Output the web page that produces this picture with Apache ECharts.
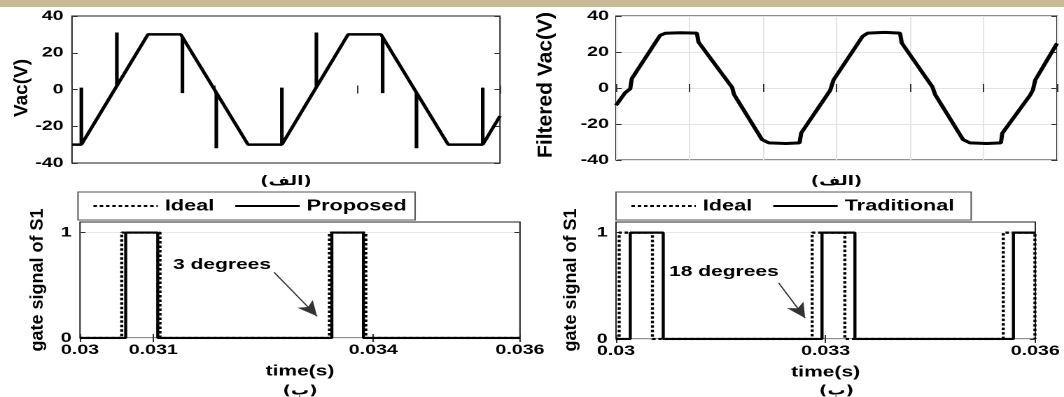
<!DOCTYPE html>
<html><head><meta charset="utf-8">
<script src="https://cdn.jsdelivr.net/npm/echarts@6/dist/echarts.min.js"></script>
<style>
html,body{margin:0;padding:0;background:#fff;overflow:hidden}
#wrap{width:1064px;height:397px;overflow:hidden;position:relative;background:#fff}
#c{width:760px;height:397px;transform:scaleX(1.4);transform-origin:0 0}
</style></head>
<body><div id="wrap"><div id="c"></div></div>
<script>
// ---------------- data (time in s, value) ----------------
const vacRaw = [
  [0.03,-30],[0.030131,-30],[0.030131,1],[0.030131,-30],
  [0.030629,2],[0.030629,31],[0.030629,2],
  [0.031065,30],[0.031524,30],
  [0.031548,28.5],[0.031548,-2],[0.031548,28.5],
  [0.032023,-1.7],[0.032023,-32],[0.032023,-1.7],
  [0.032468,-30],[0.032942,-30],[0.032942,1],[0.032942,-30],
  [0.033426,1.3],[0.033426,31],[0.033426,1.3],
  [0.033871,30],[0.034331,30],
  [0.034355,28.5],[0.034355,-2],[0.034355,28.5],
  [0.034829,-1.7],[0.034829,-32],[0.034829,-1.7],
  [0.035274,-30],[0.035758,-30],[0.035758,1],[0.035758,-30],
  [0.036,-14.4]
];
const vacFiltered = [
  [0.03,-9.6],[0.030125,-2.6],[0.030193,-0.5],[0.030215,5.2],[0.030601,29.3],[0.030669,30.4],
  [0.030873,30.7],[0.0311,30.5],[0.031122,25.5],[0.03158,0.3],[0.031607,-3.7],[0.031987,-28.7],
  [0.03208,-30.5],[0.032312,-30.8],[0.032497,-30.5],[0.03252,-25],[0.032914,-1.3],[0.032937,-0.5],
  [0.032961,4.6],[0.033355,28.7],[0.033424,30.5],[0.033656,30.9],[0.033864,30.5],[0.033888,25],
  [0.034305,0.6],[0.034342,-3.7],[0.034722,-28.7],[0.034815,-30.5],[0.035046,-30.8],[0.035237,-30.5],
  [0.035255,-25.2],[0.035635,-3.9],[0.035672,-1.1],[0.035704,4.4],[0.036,24.8]
];
const gateIdealA = [
  [0.03,0],[0.030569,0],[0.030569,1],[0.031091,1],[0.031091,0],
  [0.033401,0],[0.033401,1],[0.033898,1],[0.033898,0],[0.036,0]
];
const gateProposed = [
  [0.03,0],[0.030623,0],[0.030623,1],[0.03106,1],[0.03106,0],
  [0.033434,0],[0.033434,1],[0.033865,1],[0.033865,0],[0.036,0]
];
const gateIdealB = [
  [0.03,0],[0.030045,0],[0.030045,1],[0.030521,1],[0.030521,0],
  [0.032807,0],[0.032807,1],[0.033275,1],[0.033275,0],
  [0.035542,0],[0.035542,1],[0.035995,1],[0.035995,0],[0.036,0]
];
const gateTraditional = [
  [0.03,0],[0.030204,0],[0.030204,1],[0.030676,1],[0.030676,0],
  [0.032948,0],[0.032948,1],[0.033419,1],[0.033419,0],
  [0.035687,0],[0.035687,1],[0.036,1]
];
const arrowA = [[0.032647,0.623],[0.033233,0.206]];
const arrowB = [[0.032327,0.528],[0.032707,0.196]];
const xTicksA = [0.03,0.031,0.034,0.036];
const xTicksB = [0.03,0.033,0.036];
const yTicksGate = [0,1];
const legendA = ['Ideal','Proposed'];
const legendB = ['Ideal','Traditional'];
const noteA = '3 degrees';
const noteB = '18 degrees';
const yTitles = ['Vac(V)','Filtered Vac(V)','gate signal of S1','gate signal of S1'];

// ---------------- layout ----------------
const S = 1.4;
const px = x => x / S;
const FONT = 'Liberation Sans, Arial, Helvetica, sans-serif';
const AR = 'DejaVu Sans, sans-serif';
const fmt = v => String(+(+v).toFixed(4));

const grids = [
  {left: px(72),  top: 16,  width: px(500-72),   height: 147},
  {left: px(616), top: 16,  width: px(1057-616), height: 144},
  {left: px(80),  top: 222, width: px(520-80),   height: 116},
  {left: px(616), top: 222, width: px(1057-616), height: 117}
].map(g => Object.assign({show: true, borderColor: '#222', borderWidth: 1, backgroundColor: 'rgba(0,0,0,0)'}, g));

const tick = extra => Object.assign({show: true, inside: true, length: 4, lineStyle: {color: '#333', width: 1}}, extra || {});
const lbl = extra => Object.assign({fontFamily: FONT, fontWeight: 'bold', fontSize: 14, color: '#000'}, extra || {});
const gridSplit = {show: true, lineStyle: {color: '#e4e4e4', width: 1}};

function xAx(gi, pos, o) {
  return Object.assign({type: 'value', gridIndex: gi, position: pos, min: 0.03, max: 0.036,
    axisLine: {show: false}, axisLabel: {show: false}, splitLine: {show: false}}, o);
}
function yAx(gi, pos, o) {
  return Object.assign({type: 'value', gridIndex: gi, position: pos,
    axisLine: {show: false}, axisLabel: {show: false}, splitLine: {show: false}}, o);
}
const alefName = {name: '(الف)', nameLocation: 'middle',
  nameTextStyle: {fontFamily: AR, fontWeight: 'bold', fontSize: 13, color: '#000'}};
const timeName = {name: 'time(s)', nameLocation: 'middle', nameGap: 26,
  nameTextStyle: {fontFamily: FONT, fontWeight: 'bold', fontSize: 15, color: '#000'}};

const xAxis = [
  xAx(0, 'bottom', Object.assign({interval: 0.002, axisTick: tick(), nameGap: 12}, alefName)),
  xAx(0, 'top', {interval: 0.002, axisTick: tick()}),
  xAx(1, 'bottom', Object.assign({interval: 0.001, axisTick: tick(), splitLine: gridSplit, nameGap: 15}, alefName)),
  xAx(1, 'top', {interval: 0.001, axisTick: tick()}),
  xAx(2, 'bottom', Object.assign({interval: 0.001,
    axisTick: tick({customValues: xTicksA}),
    axisLabel: lbl({show: true, customValues: xTicksA, margin: 5, formatter: fmt})}, timeName)),
  xAx(2, 'top', {interval: 0.001, axisTick: tick({customValues: xTicksA})}),
  xAx(3, 'bottom', Object.assign({interval: 0.001,
    axisTick: tick({customValues: xTicksB}),
    axisLabel: lbl({show: true, customValues: xTicksB, margin: 5, formatter: fmt})}, timeName)),
  xAx(3, 'top', {interval: 0.001, axisTick: tick({customValues: xTicksB})})
];
const yAxis = [
  yAx(0, 'left', {min: -40, max: 40, interval: 20, axisTick: tick(), axisLabel: lbl({show: true, margin: 6})}),
  yAx(0, 'right', {min: -40, max: 40, interval: 20, axisTick: tick()}),
  yAx(1, 'left', {min: -40, max: 40, interval: 20, axisTick: tick(), splitLine: gridSplit, axisLabel: lbl({show: true, margin: 5})}),
  yAx(1, 'right', {min: -40, max: 40, interval: 20, axisTick: tick()}),
  yAx(2, 'left', {min: 0, max: 1.1, interval: 1, axisTick: tick({customValues: yTicksGate}),
    splitLine: {show: true, lineStyle: {color: '#e8e8e8'}},
    axisLabel: lbl({show: true, margin: 6, customValues: yTicksGate})}),
  yAx(2, 'right', {min: 0, max: 1.1, interval: 1, axisTick: tick({customValues: yTicksGate})}),
  yAx(3, 'left', {min: 0, max: 1.1, interval: 1, axisTick: tick({customValues: yTicksGate}),
    splitLine: {show: true, lineStyle: {color: '#e8e8e8'}},
    axisLabel: lbl({show: true, margin: 6, customValues: yTicksGate})}),
  yAx(3, 'right', {min: 0, max: 1.1, interval: 1, axisTick: tick({customValues: yTicksGate})})
];

const dotted = [2.5, 2];
function lineSeries(name, data, xi, yi, width, type, extra) {
  return Object.assign({name: name, type: 'line', data: data, xAxisIndex: xi, yAxisIndex: yi,
    symbol: 'none', showSymbol: false, animation: false, color: '#000',
    lineStyle: {color: '#000', width: width, type: type || 'solid'}}, extra || {});
}
function arrow(pts) {
  return {silent: true, symbol: ['none', 'arrow'], symbolSize: [10, 15], animation: false,
    label: {show: false}, lineStyle: {color: '#333', width: 1, type: 'solid'},
    data: [[{coord: pts[0]}, {coord: pts[1]}]]};
}
const series = [
  lineSeries('Vac', vacRaw, 0, 0, 2.6),
  lineSeries('Filtered', vacFiltered, 2, 2, 3),
  lineSeries(legendA[0], gateIdealA, 4, 4, 2.2, dotted, {markLine: arrow(arrowA)}),
  lineSeries(legendA[1], gateProposed, 4, 4, 2.2),
  lineSeries(legendB[0], gateIdealB, 6, 6, 2.2, dotted, {markLine: arrow(arrowB)}),
  lineSeries(legendB[1], gateTraditional, 6, 6, 2.2)
];

const legendBase = {top: 192, orient: 'horizontal', itemWidth: 46, itemHeight: 14, itemGap: 14,
  padding: [6, 6, 6, 10], borderColor: '#555', borderWidth: 1, borderRadius: 0, backgroundColor: '#fff',
  selectedMode: false,
  itemStyle: {color: 'rgba(0,0,0,0)', borderColor: 'rgba(0,0,0,0)', borderWidth: 0, opacity: 0},
  textStyle: {fontFamily: FONT, fontWeight: 'bold', fontSize: 15.5, color: '#000'}};
const legend = [
  Object.assign({}, legendBase, {left: px(78), data: legendA}),
  Object.assign({}, legendBase, {left: px(616), data: legendB, padding: [6, 12, 6, 10]})
];

function txt(x, y, text, o) {
  const st = Object.assign({text: text, fill: '#000', align: 'center', verticalAlign: 'middle',
    textAlign: 'center', textVerticalAlign: 'middle',
    fontFamily: FONT, fontSize: 15, fontWeight: 'bold'}, o || {});
  return {type: 'text', x: x, y: y, silent: true, z: 50, style: st};
}
function ytitle(x, y, text, size) {
  const e = txt(x, y, text, {fontWeight: 'bold', fontSize: size});
  e.rotation = Math.PI / 2;
  e.scaleY = 1 / S;
  return e;
}
const graphic = [
  {type: 'rect', x: 0, y: 0, shape: {width: 760, height: 7}, style: {fill: '#c6bb95'}, silent: true, z: 60},
  ytitle(px(22), 88, yTitles[0], 19),
  ytitle(px(546), 85, yTitles[1], 21),
  ytitle(px(38), 280, yTitles[2], 18),
  ytitle(px(571), 280, yTitles[3], 18),
  txt(px(173), 265, noteA, {align: 'left', textAlign: 'left'}),
  txt(px(669), 272, noteB, {align: 'left', textAlign: 'left'}),
  txt(px(300), 391, '(ب)', {fontFamily: AR, fontSize: 13}),
  txt(px(836.5), 391, '(ب)', {fontFamily: AR, fontSize: 13})
];

const chart = echarts.init(document.getElementById('c'), null, {devicePixelRatio: 2});
chart.setOption({
  animation: false,
  backgroundColor: '#fff',
  grid: grids, xAxis: xAxis, yAxis: yAxis, series: series, legend: legend, graphic: graphic
});
</script>
</body></html>
